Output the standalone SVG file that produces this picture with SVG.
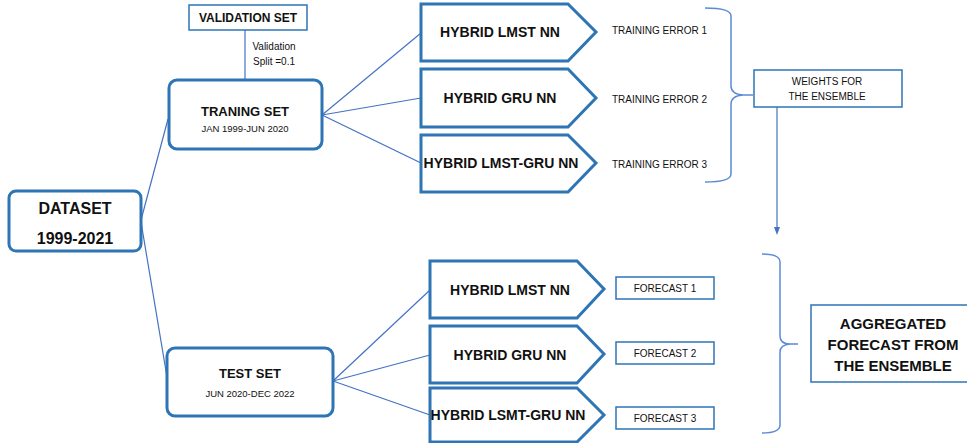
<svg xmlns="http://www.w3.org/2000/svg" width="967" height="443" viewBox="0 0 967 443">
<style>
.thick{fill:#fff;stroke:#2e75b6;stroke-width:3;stroke-linejoin:miter}
.thin{fill:#fff;stroke:#2e75b6;stroke-width:1.5}
.ln{fill:none;stroke:#4472c4;stroke-width:1.2}
.br{fill:none;stroke:#5b8bd6;stroke-width:1.5}
text{font-family:"Liberation Sans",Arial,sans-serif;fill:#111;text-anchor:middle}
.b{font-weight:bold}
.l{text-anchor:start}
</style>
<defs>
<marker id="ah" markerWidth="8" markerHeight="8" refX="4" refY="4" orient="auto" markerUnits="userSpaceOnUse">
<path d="M0,1 L8,4 L0,7 Z" fill="#4472c4"/>
</marker>
</defs>
<rect width="967" height="443" fill="#fff"/>
<g id="connectors">
<line class="ln" x1="245" y1="30" x2="245" y2="80"/>
<line class="ln" x1="141" y1="220" x2="168" y2="119"/>
<line class="ln" x1="141" y1="222" x2="167" y2="377"/>
<line class="ln" x1="322" y1="115" x2="421" y2="33"/>
<line class="ln" x1="322" y1="115" x2="421" y2="98"/>
<line class="ln" x1="322" y1="115" x2="421" y2="163"/>
<line class="ln" x1="333" y1="381" x2="430" y2="290"/>
<line class="ln" x1="333" y1="381" x2="430" y2="355"/>
<line class="ln" x1="333" y1="381" x2="430" y2="415"/>
<path class="br" d="M705,8 Q731,8 731,16 L731,86 Q731,94 743,95 L753,95 M743,95 Q731,96 731,104 L731,174 Q731,182 705,182"/>
<line class="ln" x1="777" y1="107" x2="777" y2="231" marker-end="url(#ah)"/>
<path class="br" d="M762,254 Q780,254 780,262 L780,336 Q780,344 790,344 L798,344 M790,344 Q780,345 780,352 L780,425 Q780,433 762,433"/>
</g>
<g id="validation-set">
<rect class="thin" x="189" y="5" width="118" height="25"/>
<text class="b" x="248" y="22" font-size="12">VALIDATION SET</text>
</g>
<g id="validation-split">
<text x="274" y="50" font-size="10">Validation</text>
<text x="274" y="65" font-size="10">Split =0.1</text>
</g>
<g id="training-set">
<rect class="thick" x="169" y="80" width="153" height="69" rx="8"/>
<text class="b" x="245" y="116" font-size="13">TRANING SET</text>
<text x="245" y="132" font-size="9.5">JAN 1999-JUN 2020</text>
</g>
<g id="dataset">
<rect class="thick" x="9" y="191" width="132" height="60" rx="7"/>
<text class="b" x="75" y="214" font-size="16">DATASET</text>
<text class="b" x="75" y="244" font-size="16">1999-2021</text>
</g>
<g id="test-set">
<rect class="thick" x="167" y="348" width="166" height="68" rx="8"/>
<text class="b" x="250" y="378" font-size="13">TEST SET</text>
<text x="250" y="397" font-size="9.5">JUN 2020-DEC 2022</text>
</g>
<g id="train-lmst">
<path class="thick" d="M421,4 L568,4 L596,32 L568,61 L421,61 Z"/>
<text class="b" x="500" y="37" font-size="14">HYBRID LMST NN</text>
</g>
<g id="train-gru">
<path class="thick" d="M421,69 L568,69 L596,98 L568,127 L421,127 Z"/>
<text class="b" x="500" y="103" font-size="14">HYBRID GRU NN</text>
</g>
<g id="train-lmst-gru">
<path class="thick" d="M421,135 L568,135 L596,163 L568,192 L421,192 Z"/>
<text class="b" x="501" y="168" font-size="14">HYBRID LMST-GRU NN</text>
</g>
<g id="training-errors">
<text class="l" x="612" y="34" font-size="10">TRAINING ERROR 1</text>
<text class="l" x="612" y="103" font-size="10">TRAINING ERROR 2</text>
<text class="l" x="612" y="168" font-size="10">TRAINING ERROR 3</text>
</g>
<g id="weights">
<rect class="thin" x="754" y="70" width="148" height="37"/>
<text x="827" y="85" font-size="10">WEIGHTS FOR</text>
<text x="827" y="100" font-size="10">THE ENSEMBLE</text>
</g>
<g id="test-lmst">
<path class="thick" d="M430,261 L577,261 L604,289 L577,318 L430,318 Z"/>
<text class="b" x="510" y="295" font-size="14">HYBRID LMST NN</text>
</g>
<g id="test-gru">
<path class="thick" d="M430,326 L577,326 L604,354 L577,383 L430,383 Z"/>
<text class="b" x="510" y="360" font-size="14">HYBRID GRU NN</text>
</g>
<g id="test-lsmt-gru">
<path class="thick" d="M430,388 L577,388 L604,415 L577,442 L430,442 Z"/>
<text class="b" x="508" y="420" font-size="14">HYBRID LSMT-GRU NN</text>
</g>
<g id="forecast-1">
<rect class="thin" x="616" y="277" width="98" height="22"/>
<text x="665" y="292" font-size="10">FORECAST 1</text>
</g>
<g id="forecast-2">
<rect class="thin" x="616" y="342" width="98" height="22"/>
<text x="665" y="357" font-size="10">FORECAST 2</text>
</g>
<g id="forecast-3">
<rect class="thin" x="616" y="407" width="98" height="22"/>
<text x="665" y="422" font-size="10">FORECAST 3</text>
</g>
<g id="aggregated">
<rect class="thin" x="811" y="305" width="170" height="77"/>
<text class="b" x="893" y="329" font-size="15">AGGREGATED</text>
<text class="b" x="893" y="350" font-size="15">FORECAST FROM</text>
<text class="b" x="893" y="371" font-size="15">THE ENSEMBLE</text>
</g>
</svg>
